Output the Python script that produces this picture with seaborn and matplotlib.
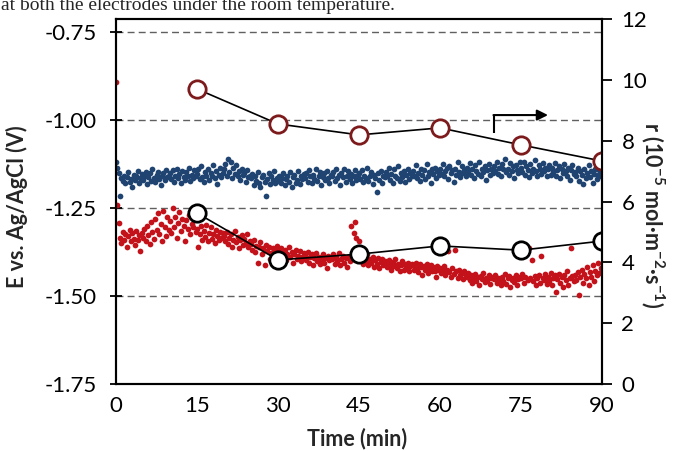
import numpy as np
import matplotlib
matplotlib.use("Agg")
import matplotlib.pyplot as plt
from matplotlib.ticker import FormatStrFormatter
import seaborn as sns

# Sampling grid of the potential logs (min)
time_min = np.round(np.arange(0, 90.001, 0.25), 2)

# Potential of the upper electrode (V vs. Ag/AgCl), one row per 5 min
e_blue = [
    -1.120, -1.135, -1.150, -1.215, -1.165, -1.172, -1.158, -1.180, -1.162, -1.148, -1.175, -1.168, -1.190, -1.155, -1.170, -1.160, -1.145, -1.178, -1.166, -1.152,
    -1.170, -1.158, -1.148, -1.182, -1.163, -1.150, -1.172, -1.140, -1.165, -1.176, -1.155, -1.147, -1.168, -1.185, -1.160, -1.150, -1.171, -1.142, -1.163, -1.158,
    -1.150, -1.168, -1.142, -1.175, -1.160, -1.138, -1.165, -1.152, -1.180, -1.145, -1.162, -1.170, -1.148, -1.158, -1.135, -1.172, -1.155, -1.165, -1.143, -1.160,
    -1.152, -1.140, -1.168, -1.130, -1.162, -1.175, -1.148, -1.158, -1.138, -1.170, -1.150, -1.160, -1.128, -1.165, -1.145, -1.182, -1.155, -1.135, -1.162, -1.150,
    -1.140, -1.125, -1.158, -1.112, -1.148, -1.118, -1.165, -1.135, -1.152, -1.128, -1.160, -1.145, -1.170, -1.138, -1.155, -1.150, -1.175, -1.142, -1.162, -1.158,
    -1.165, -1.152, -1.185, -1.160, -1.172, -1.148, -1.178, -1.190, -1.162, -1.155, -1.175, -1.215, -1.168, -1.150, -1.182, -1.160, -1.170, -1.145, -1.178, -1.165,
    -1.172, -1.158, -1.180, -1.165, -1.150, -1.185, -1.168, -1.160, -1.175, -1.148, -1.190, -1.162, -1.155, -1.178, -1.170, -1.145, -1.182, -1.160, -1.168, -1.152,
    -1.165, -1.150, -1.175, -1.142, -1.160, -1.180, -1.155, -1.168, -1.138, -1.172, -1.158, -1.148, -1.185, -1.162, -1.150, -1.170, -1.145, -1.165, -1.178, -1.155,
    -1.160, -1.148, -1.172, -1.140, -1.165, -1.155, -1.185, -1.150, -1.162, -1.138, -1.175, -1.158, -1.145, -1.168, -1.152, -1.180, -1.160, -1.142, -1.170, -1.155,
    -1.150, -1.168, -1.142, -1.175, -1.158, -1.165, -1.135, -1.172, -1.160, -1.148, -1.182, -1.155, -1.165, -1.205, -1.150, -1.170, -1.145, -1.178, -1.158, -1.162,
    -1.148, -1.160, -1.135, -1.170, -1.152, -1.180, -1.140, -1.158, -1.165, -1.130, -1.172, -1.150, -1.162, -1.145, -1.175, -1.155, -1.138, -1.168, -1.150, -1.160,
    -1.145, -1.158, -1.128, -1.165, -1.150, -1.172, -1.138, -1.155, -1.142, -1.168, -1.125, -1.160, -1.148, -1.178, -1.140, -1.152, -1.135, -1.165, -1.145, -1.155,
    -1.140, -1.152, -1.125, -1.160, -1.145, -1.135, -1.168, -1.130, -1.150, -1.142, -1.175, -1.138, -1.155, -1.120, -1.148, -1.162, -1.132, -1.150, -1.143, -1.158,
    -1.135, -1.148, -1.122, -1.155, -1.140, -1.165, -1.128, -1.145, -1.152, -1.118, -1.160, -1.138, -1.148, -1.130, -1.170, -1.142, -1.125, -1.155, -1.138, -1.150,
    -1.130, -1.145, -1.118, -1.152, -1.135, -1.160, -1.125, -1.140, -1.112, -1.148, -1.138, -1.155, -1.122, -1.145, -1.132, -1.165, -1.128, -1.142, -1.150, -1.120,
    -1.135, -1.148, -1.120, -1.155, -1.130, -1.142, -1.162, -1.125, -1.150, -1.138, -1.115, -1.145, -1.158, -1.128, -1.140, -1.152, -1.122, -1.145, -1.135, -1.160,
    -1.140, -1.128, -1.155, -1.135, -1.148, -1.122, -1.160, -1.142, -1.130, -1.165, -1.138, -1.150, -1.125, -1.145, -1.158, -1.135, -1.170, -1.142, -1.128, -1.152,
    -1.148, -1.160, -1.135, -1.172, -1.145, -1.155, -1.182, -1.140, -1.165, -1.150, -1.128, -1.162, -1.145, -1.178, -1.152, -1.138, -1.168, -1.155, -1.142, -1.160,
    -1.150,
]

# Potential of the lower electrode (V vs. Ag/AgCl), one row per 5 min
e_red = [
    -0.892, -1.241, -1.293, -1.335, -1.350, -1.318, -1.342, -1.325, -1.360, -1.330, -1.312, -1.345, -1.322, -1.338, -1.355, -1.315, -1.340, -1.328, -1.372, -1.320,
    -1.335, -1.310, -1.345, -1.300, -1.328, -1.352, -1.290, -1.318, -1.338, -1.280, -1.312, -1.265, -1.325, -1.295, -1.345, -1.258, -1.305, -1.330, -1.275, -1.312,
    -1.288, -1.320, -1.250, -1.305, -1.275, -1.335, -1.292, -1.262, -1.315, -1.280, -1.300, -1.345, -1.285, -1.310, -1.270, -1.325, -1.295, -1.305, -1.282, -1.318,
    -1.310, -1.362, -1.325, -1.300, -1.340, -1.315, -1.332, -1.298, -1.345, -1.320, -1.305, -1.338, -1.325, -1.350, -1.312, -1.330, -1.342, -1.318, -1.335, -1.322,
    -1.330, -1.345, -1.318, -1.352, -1.335, -1.325, -1.360, -1.340, -1.315, -1.348, -1.332, -1.365, -1.342, -1.328, -1.355, -1.338, -1.350, -1.325, -1.362, -1.345,
    -1.352, -1.368, -1.340, -1.375, -1.358, -1.405, -1.362, -1.348, -1.380, -1.365, -1.412, -1.355, -1.372, -1.360, -1.395, -1.378, -1.365, -1.385, -1.370, -1.358,
    -1.372, -1.385, -1.365, -1.392, -1.378, -1.368, -1.398, -1.380, -1.362, -1.390, -1.375, -1.405, -1.382, -1.370, -1.395, -1.385, -1.372, -1.400, -1.388, -1.378,
    -1.385, -1.398, -1.375, -1.405, -1.390, -1.380, -1.412, -1.392, -1.378, -1.400, -1.388, -1.410, -1.395, -1.382, -1.405, -1.392, -1.420, -1.385, -1.398, -1.390,
    -1.395, -1.382, -1.408, -1.390, -1.400, -1.378, -1.412, -1.395, -1.385, -1.405, -1.392, -1.418, -1.388, -1.400, -1.300, -1.395, -1.320, -1.290, -1.335, -1.385,
    -1.345, -1.398, -1.385, -1.410, -1.392, -1.402, -1.380, -1.412, -1.395, -1.405, -1.388, -1.418, -1.398, -1.408, -1.392, -1.420, -1.402, -1.395, -1.412, -1.400,
    -1.405, -1.418, -1.398, -1.412, -1.425, -1.402, -1.415, -1.395, -1.420, -1.408, -1.430, -1.412, -1.400, -1.425, -1.410, -1.418, -1.405, -1.428, -1.415, -1.408,
    -1.412, -1.425, -1.405, -1.420, -1.432, -1.410, -1.418, -1.440, -1.415, -1.425, -1.408, -1.435, -1.420, -1.412, -1.430, -1.418, -1.428, -1.445, -1.415, -1.425,
    -1.420, -1.435, -1.428, -1.415, -1.440, -1.425, -1.372, -1.432, -1.445, -1.420, -1.438, -1.368, -1.430, -1.448, -1.425, -1.440, -1.435, -1.452, -1.428, -1.442,
    -1.445, -1.435, -1.455, -1.440, -1.462, -1.448, -1.438, -1.458, -1.445, -1.470, -1.442, -1.452, -1.435, -1.460, -1.448, -1.455, -1.440, -1.465, -1.450, -1.445,
    -1.452, -1.440, -1.462, -1.448, -1.455, -1.470, -1.445, -1.458, -1.438, -1.465, -1.450, -1.442, -1.475, -1.455, -1.448, -1.460, -1.440, -1.468, -1.452, -1.445,
    -1.450, -1.438, -1.462, -1.445, -1.375, -1.455, -1.365, -1.448, -1.398, -1.458, -1.442, -1.470, -1.450, -1.440, -1.462, -1.385, -1.448, -1.455, -1.438, -1.465,
    -1.445, -1.458, -1.435, -1.470, -1.448, -1.440, -1.488, -1.452, -1.438, -1.462, -1.445, -1.475, -1.440, -1.455, -1.430, -1.468, -1.448, -1.365, -1.442, -1.458,
    -1.440, -1.455, -1.432, -1.498, -1.445, -1.425, -1.462, -1.438, -1.450, -1.418, -1.470, -1.432, -1.445, -1.412, -1.458, -1.428, -1.440, -1.405, -1.435, -1.420,
    -1.425,
]

# Rate r (1e-5 mol m^-2 s^-1) sampled every 15 min
rate_time = [15, 30, 45, 60, 75, 90]
rate_upper = [9.70, 8.55, 8.19, 8.42, 7.86, 7.33]
rate_lower = [5.62, 4.08, 4.27, 4.54, 4.40, 4.70]

x_ticks = [0, 15, 30, 45, 60, 75, 90]
e_ticks = [-1.75, -1.50, -1.25, -1.00, -0.75]
r_ticks = [0, 2, 4, 6, 8, 10, 12]

sns.set_style("white")
plt.rcParams["font.family"] = ["Lato", "DejaVu Sans"]
plt.rcParams["mathtext.fontset"] = "custom"
plt.rcParams["mathtext.rm"] = "Lato"
plt.rcParams["mathtext.bf"] = "Lato:bold"
plt.rcParams["axes.unicode_minus"] = False

BLUE = "#1f4472"
RED = "#c4121b"
MAROON = "#7d1a1c"

fig = plt.figure(figsize=(6.81, 4.51), dpi=100)
ax = fig.add_axes([116 / 681, 67 / 451, 486 / 681, 365 / 451])

# dashed reference lines
for v in [-0.75, -1.00, -1.25, -1.50]:
    ax.axhline(v, color="#606060", lw=1.0, ls=(0, (5, 3)), zorder=0.5)

sns.scatterplot(x=time_min, y=e_blue, ax=ax, color=BLUE, s=17, linewidth=0, zorder=2)
sns.scatterplot(x=time_min, y=e_red, ax=ax, color=RED, s=17, linewidth=0, zorder=2)

ax.set_xlim(0, 90)
ax.set_ylim(-1.75, -0.75 + 13 / 352)
ax.set_xticks(x_ticks)
ax.set_yticks(e_ticks)
ax.yaxis.set_major_formatter(FormatStrFormatter("%.2f"))
ax.tick_params(axis="y", direction="inout", length=9, width=1.3, labelsize=16, pad=9, colors="black")
ax.tick_params(axis="x", direction="inout", length=9, width=1.3, labelsize=16, pad=4, colors="black")
for s in ax.spines.values():
    s.set_visible(True)
    s.set_color("black")
    s.set_linewidth(1.5)

ax.set_xlabel("Time (min)", fontsize=15.5, fontweight="bold")
ax.xaxis.set_label_coords(0.496, -0.12)
ax.set_ylabel("E vs. Ag/AgCl (V)", fontsize=15.5, fontweight="bold")
ax.yaxis.set_label_coords(-0.181, 0.485)

# bent arrow pointing to the right-hand axis
ax.plot([70, 70], [-1.037, -0.986], color="black", lw=1.5, solid_capstyle="butt", zorder=3)
ax.annotate("", xy=(80.0, -0.986), xytext=(69.9, -0.986),
            arrowprops=dict(arrowstyle="-|>", color="black", lw=1.5,
                            mutation_scale=16, shrinkA=0, shrinkB=0), zorder=3)

ax2 = ax.twinx()
sns.lineplot(x=rate_time, y=rate_upper, ax=ax2, color="black", lw=1.2,
             marker="o", markersize=12.5, markerfacecolor="white",
             markeredgecolor=MAROON, markeredgewidth=2.0)
sns.lineplot(x=rate_time, y=rate_lower, ax=ax2, color="black", lw=1.2,
             marker="o", markersize=12.5, markerfacecolor="white",
             markeredgecolor="black", markeredgewidth=2.0)
ax2.set_ylim(0, 12)
ax2.set_yticks(r_ticks)
ax2.tick_params(axis="y", direction="out", length=7, width=1.3, labelsize=16, pad=7, colors="black")
ax2.set_ylabel(r"r (10$^{\mathbf{-5}}$ mol·m$^{\mathbf{-2}}$·s$^{\mathbf{-1}}$)",
               fontsize=15.5, fontweight="bold", rotation=270)
ax2.yaxis.set_label_coords(1.132, 0.463)
for s in ax2.spines.values():
    s.set_linewidth(1.5)
    s.set_color("black")

# caption line of the surrounding page, cut by the top edge
fig.text(1 / 681, 1 - 10 / 451, "at both the electrodes under the room temperature.",
         family=["Liberation Serif"], fontsize=14, va="baseline", ha="left")

fig.savefig("out.png", dpi=100)
